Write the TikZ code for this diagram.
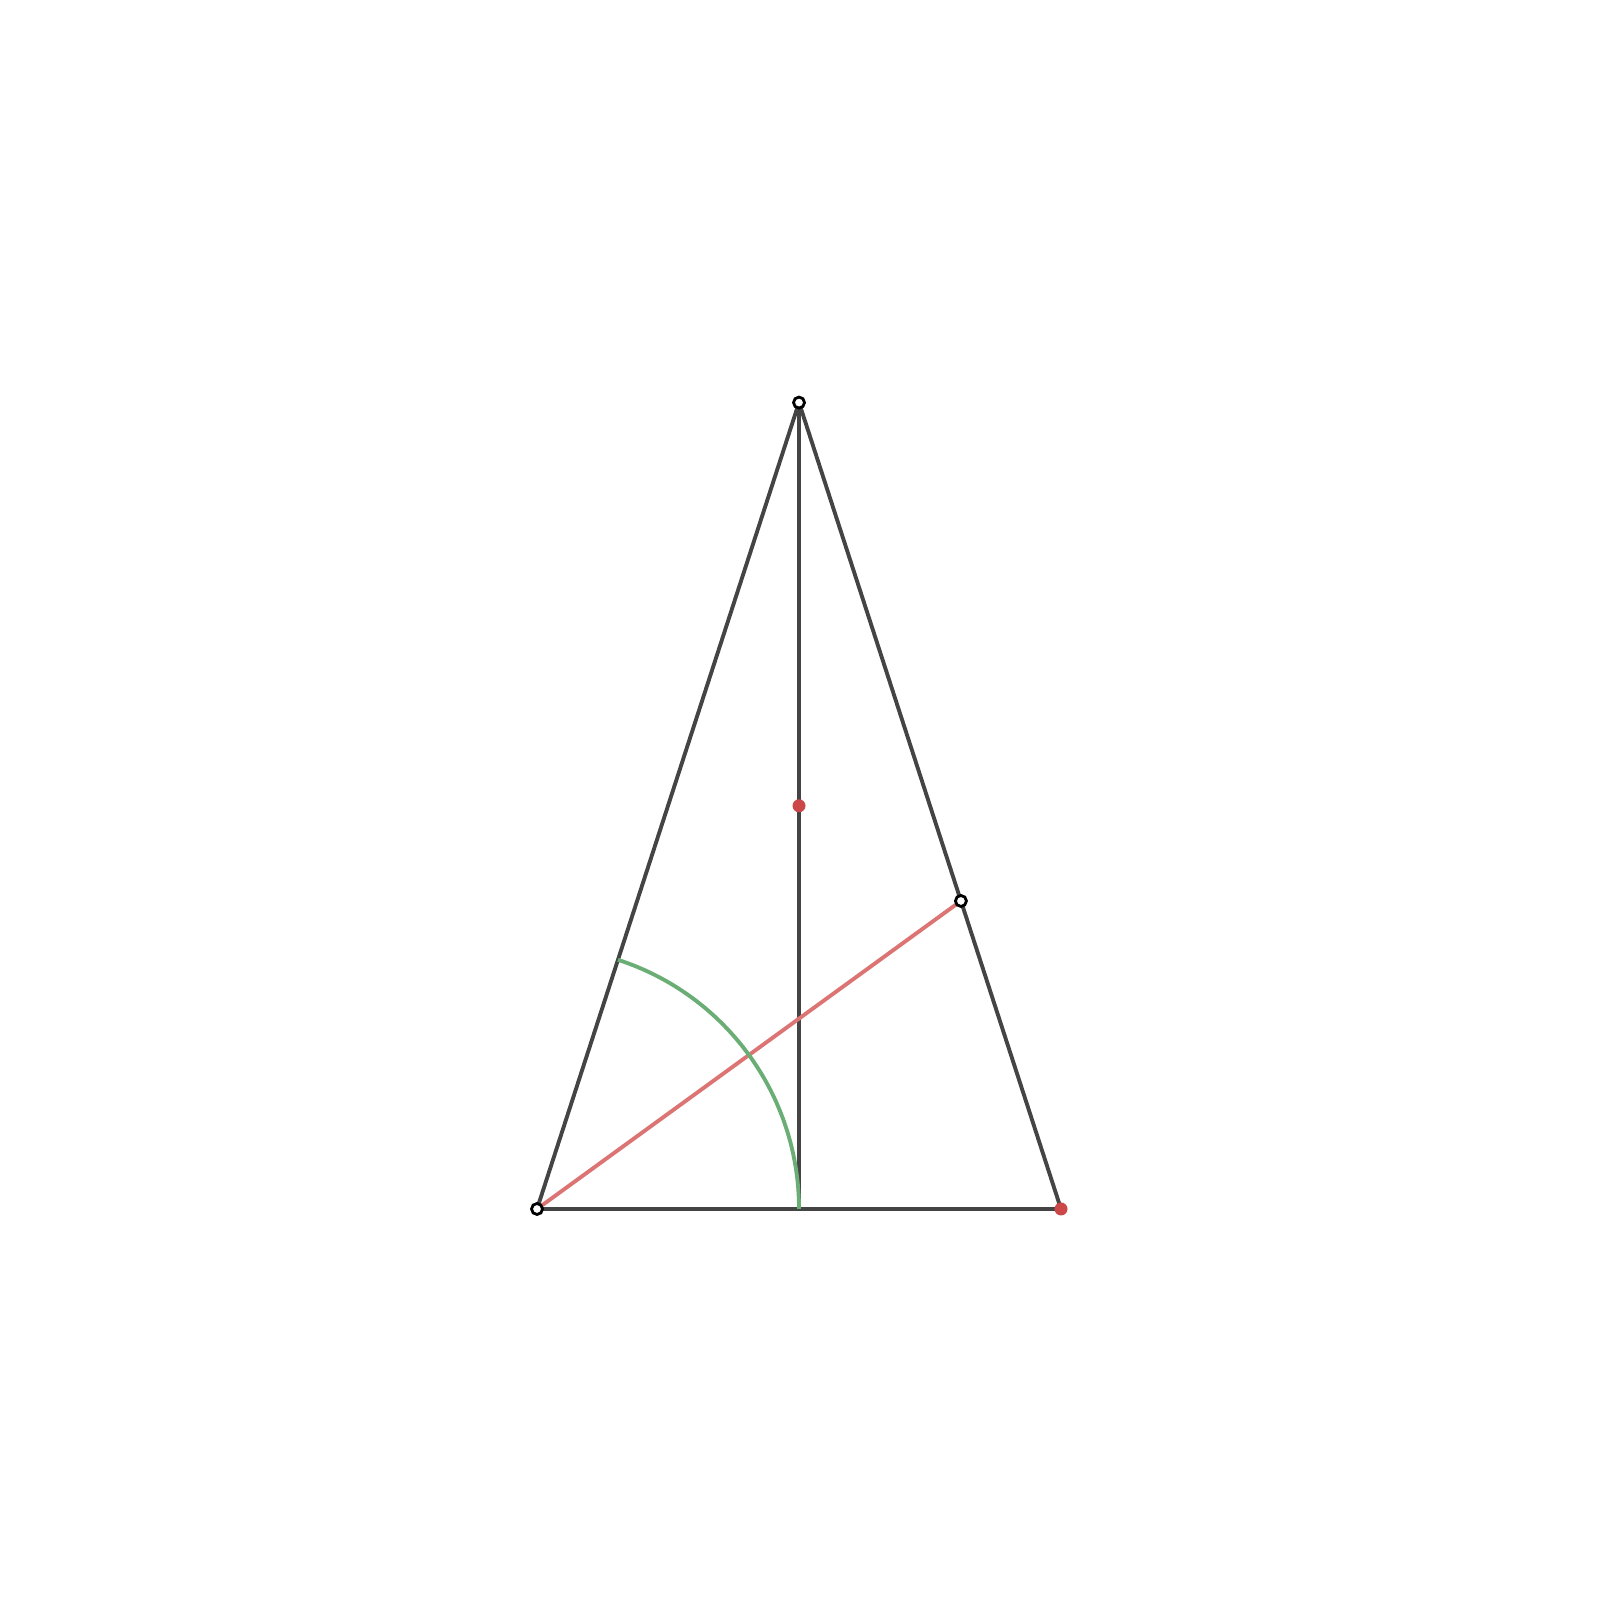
\documentclass[tikz,border=0pt]{standalone}
\usepackage{xcolor}
\usepackage{tikz}
\usetikzlibrary{calc}
\definecolor{edge}{HTML}{444444}
\definecolor{bisect}{HTML}{DC7474}
\definecolor{arcgreen}{HTML}{6AAE76}
\definecolor{reddot}{HTML}{CC4747}
\tikzset{
  side/.style={draw=edge, line width=1.1pt},
  bisline/.style={draw=bisect, line width=1.1pt},
  arcline/.style={draw=arcgreen, line width=1.1pt},
  openpt/.style={circle, draw=black, fill=white, line width=0.8pt, inner sep=0pt, minimum size=0.11cm},
  fullpt/.style={circle, fill=reddot, inner sep=0pt, minimum size=0.13cm},
}
\begin{document}
\begin{tikzpicture}
\useasboundingbox (0,0) rectangle (16,16);
\coordinate (B) at (5.37,3.91);
\coordinate (C) at (10.61,3.91);
\coordinate (A) at (7.99,11.974);
\coordinate (H) at ($(B)!0.5!(C)$);
\coordinate (M) at ($(A)!0.5!(H)$);
\coordinate (D) at ($(A)!0.618034!(C)$);

\draw[side] (A) -- (B) -- (C) -- cycle;
\draw[side] (A) -- (H);
\draw[bisline] (B) -- (D);
\draw[arcline] (H) arc[start angle=0, end angle=72, radius=2.62];

\node[fullpt] (Mdot) at (M) {};
\node[fullpt] (Cdot) at (C) {};
\node[openpt] (Adot) at (A) {};
\node[openpt] (Bdot) at (B) {};
\node[openpt] (Ddot) at (D) {};
\end{tikzpicture}
\end{document}
